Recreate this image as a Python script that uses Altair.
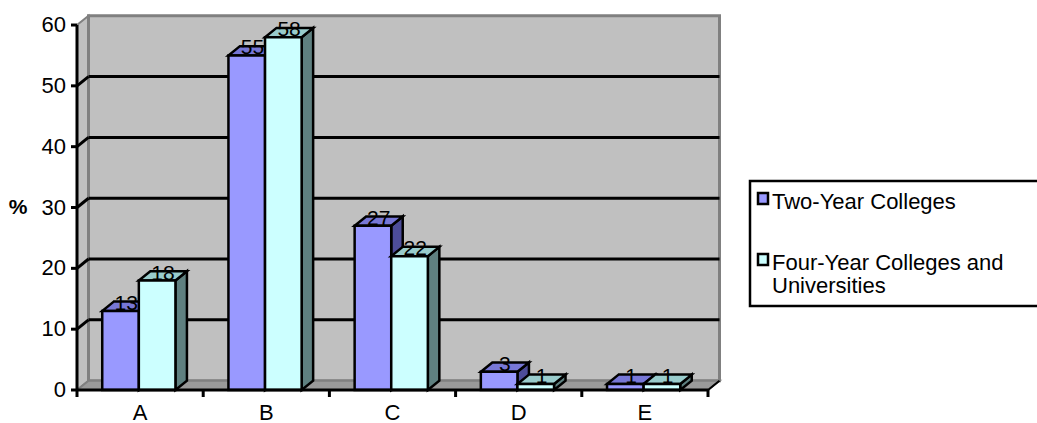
import altair as alt
import pandas as pd

# ---- data -------------------------------------------------------------
categories = ["A", "B", "C", "D", "E"]
two_year = [13, 55, 27, 3, 1]
four_year = [18, 58, 22, 1, 1]
series_names = ["Two-Year Colleges", "Four-Year Colleges and Universities"]
legend_labels = ["Two-Year Colleges", "Four-Year Colleges and\nUniversities"]
y_ticks = [0, 10, 20, 30, 40, 50, 60]
grid_values = [10, 20, 30, 40, 50]
axis_title = "%"

# ---- layout / style ---------------------------------------------------
W, H = 1037, 423
X0_PX, PX_PER_CAT = 77, 126.2      # front-left corner of the floor, category width
Y0_PX, PX_PER_UNIT = 390, 6.083    # value 0 on the front axis, pixels per percent
DEPTH_X_PX, DEPTH_Y_PX = 11.5, 9.3 # 3-D depth offset
YMAX = 60
BAR_EDGES = [0.2, 0.49, 0.78]      # bar edges inside a category slot

FONT = "Liberation Sans, Arial, sans-serif"
FS = 22
FRONT = ["#9999FF", "#CCFFFF"]
TOP = ["#7777D6", "#99CCCC"]
SIDE = ["#4D4D99", "#5F8080"]
WALL = "#C0C0C0"
WALL_EDGE = "#808080"
FLOOR = "#9A9A9A"


def u(px):
    return (px - X0_PX) / PX_PER_CAT


def v(py):
    return (Y0_PX - py) / PX_PER_UNIT


DX = DEPTH_X_PX / PX_PER_CAT
DY = DEPTH_Y_PX / PX_PER_UNIT
N = len(categories)

xs = alt.Scale(domain=[u(0), u(W)], nice=False, zero=False)
ys = alt.Scale(domain=[v(H), v(0)], nice=False, zero=False)


def X(f="x"):
    return alt.X(f"{f}:Q", scale=xs, axis=None, stack=None)


def Y(f="y"):
    return alt.Y(f"{f}:Q", scale=ys, axis=None, stack=None)


def df(rows):
    return pd.DataFrame(rows)


layers = []

# ---- walls and floor --------------------------------------------------
left_wall = df([{"id": 0, "x": 0, "y": 0, "y2": YMAX},
                {"id": 0, "x": DX, "y": DY, "y2": YMAX + DY}])
layers.append(alt.Chart(left_wall).mark_area(
    orient="vertical", fill=WALL, stroke=WALL_EDGE, strokeWidth=2
).encode(x=X(), y=Y(), y2="y2:Q", detail="id:N"))

back_wall = df([{"x": DX, "x2": N + DX, "y": DY, "y2": YMAX + DY}])
layers.append(alt.Chart(back_wall).mark_rect(
    fill=WALL, stroke=WALL_EDGE, strokeWidth=3
).encode(x=X(), x2="x2:Q", y=Y(), y2="y2:Q"))

floor = df([{"id": 0, "y": 0, "x": 0, "x2": N},
            {"id": 0, "y": DY, "x": DX, "x2": N + DX}])
layers.append(alt.Chart(floor).mark_area(
    orient="horizontal", fill=FLOOR, stroke=WALL_EDGE, strokeWidth=2
).encode(y=Y(), x=X(), x2="x2:Q", detail="id:N"))

# gridlines on the back wall and across the left wall
back_grid = df([{"x": DX, "x2": N + DX, "y": g + DY} for g in grid_values])
layers.append(alt.Chart(back_grid).mark_rule(color="black", strokeWidth=3)
              .encode(x=X(), x2="x2:Q", y=Y()))
side_grid = df([{"x": 0, "x2": DX, "y": g, "y2": g + DY} for g in grid_values])
layers.append(alt.Chart(side_grid).mark_rule(color="black", strokeWidth=3)
              .encode(x=X(), x2="x2:Q", y=Y(), y2="y2:Q"))

# ---- 3-D bars ---------------------------------------------------------
label_rows = []
for s, values in enumerate([two_year, four_year]):
    side_rows, top_rows, front_rows = [], [], []
    for k, val in enumerate(values):
        xl, xr = k + BAR_EDGES[s], k + BAR_EDGES[s + 1]
        side_rows += [{"id": k, "x": xr, "y": 0, "y2": val},
                      {"id": k, "x": xr + DX, "y": DY, "y2": val + DY}]
        top_rows += [{"id": k, "y": val, "x": xl, "x2": xr},
                     {"id": k, "y": val + DY, "x": xl + DX, "x2": xr + DX}]
        front_rows.append({"x": xl, "x2": xr, "y": 0, "y2": val,
                           "category": categories[k], "series": series_names[s]})
        label_rows.append({"x": (xl + xr) / 2 + DX / 2, "y": val, "label": str(val)})

    layers.append(alt.Chart(df(side_rows)).mark_area(
        orient="vertical", fill=SIDE[s], stroke="black", strokeWidth=2.5,
        strokeJoin="miter"
    ).encode(x=X(), y=Y(), y2="y2:Q", detail="id:N"))
    layers.append(alt.Chart(df(top_rows)).mark_area(
        orient="horizontal", fill=TOP[s], stroke="black", strokeWidth=2.5,
        strokeJoin="miter"
    ).encode(y=Y(), x=X(), x2="x2:Q", detail="id:N"))
    layers.append(alt.Chart(df(front_rows)).mark_rect(
        fill=FRONT[s], stroke="black", strokeWidth=2.5
    ).encode(x=X(), x2="x2:Q", y=Y(), y2="y2:Q"))

layers.append(alt.Chart(df(label_rows)).mark_text(
    font=FONT, fontSize=21, color="black", align="center",
    baseline="alphabetic", dy=-1
).encode(x=X(), y=Y(), text="label:N"))

# ---- axes -------------------------------------------------------------
layers.append(alt.Chart(df([{"x": 0, "y": 0, "y2": YMAX}])).mark_rule(
    color="black", strokeWidth=3).encode(x=X(), y=Y(), y2="y2:Q"))
layers.append(alt.Chart(df([{"x": 0, "x2": N, "y": 0}])).mark_rule(
    color="black", strokeWidth=3).encode(x=X(), x2="x2:Q", y=Y()))
layers.append(alt.Chart(df([{"x": N, "x2": N + DX, "y": 0, "y2": DY}])).mark_rule(
    color="black", strokeWidth=2).encode(x=X(), x2="x2:Q", y=Y(), y2="y2:Q"))

y_tick_df = df([{"x": u(X0_PX - 6), "x2": 0, "y": t, "label": str(t)} for t in y_ticks])
layers.append(alt.Chart(y_tick_df).mark_rule(color="black", strokeWidth=3)
              .encode(x=X(), x2="x2:Q", y=Y()))
layers.append(alt.Chart(y_tick_df).mark_text(
    font=FONT, fontSize=FS, align="right", baseline="middle", dx=-11
).encode(x=alt.X("x2:Q", scale=xs, axis=None), y=Y(), text="label:N"))

x_tick_df = df([{"x": k, "y": 0, "y2": v(Y0_PX + 7)} for k in range(N + 1)])
layers.append(alt.Chart(x_tick_df).mark_rule(color="black", strokeWidth=3)
              .encode(x=X(), y=Y(), y2="y2:Q"))
x_lab_df = df([{"x": k + 0.5, "y": 0, "label": c} for k, c in enumerate(categories)])
layers.append(alt.Chart(x_lab_df).mark_text(
    font=FONT, fontSize=FS, align="center", baseline="top", dy=13
).encode(x=X(), y=Y(), text="label:N"))

layers.append(alt.Chart(df([{"x": u(18), "y": v(208), "label": axis_title}])).mark_text(
    font=FONT, fontSize=21, fontWeight="bold", align="center", baseline="middle"
).encode(x=X(), y=Y(), text="label:N"))

# ---- legend -----------------------------------------------------------
layers.append(alt.Chart(df([{"x": u(750), "x2": u(1050), "y": v(181), "y2": v(306)}]))
              .mark_rect(fill="white", stroke="black", strokeWidth=2.5)
              .encode(x=X(), x2="x2:Q", y=Y(), y2="y2:Q"))
legend_rows_px = [193, 254]
for s, top_px in enumerate(legend_rows_px):
    sq = df([{"x": u(758), "x2": u(768), "y": v(top_px), "y2": v(top_px + 11)}])
    layers.append(alt.Chart(sq).mark_rect(fill=FRONT[s], stroke="black", strokeWidth=2.5)
                  .encode(x=X(), x2="x2:Q", y=Y(), y2="y2:Q"))
    txt = df([{"x": u(772), "y": v(top_px + 15.5), "label": legend_labels[s]}])
    layers.append(alt.Chart(txt).mark_text(
        font=FONT, fontSize=FS, align="left", baseline="alphabetic",
        lineBreak="\n", lineHeight=23
    ).encode(x=X(), y=Y(), text="label:N"))

chart = alt.layer(*layers).properties(
    width=W, height=H,
    autosize=alt.AutoSizeParams(type="none"),
    padding=0,
    background="white",
).configure_view(stroke=None)

chart.save("out.html", embed_options={"renderer": "svg", "actions": False})
